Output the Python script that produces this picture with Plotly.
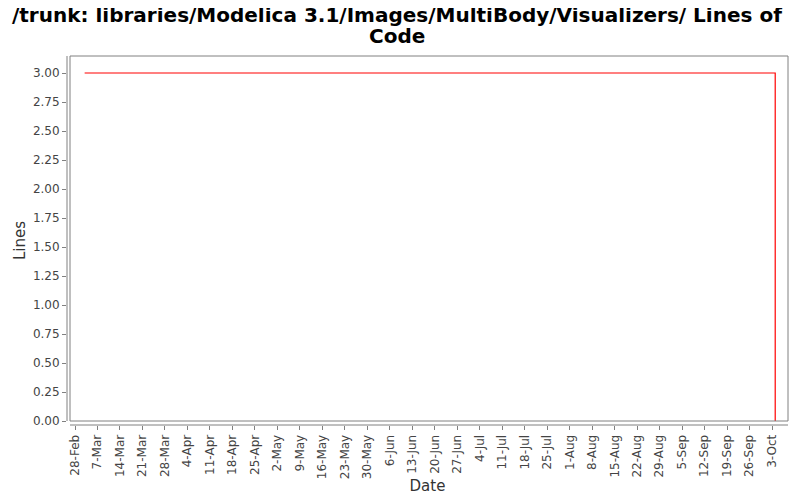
import plotly.graph_objects as go
import pandas as pd

# Data
dates = ["2009-03-03", "2009-10-04", "2009-10-04"]
lines = [3, 3, 0]
tick_start = "2009-02-28"
tick_end = "2009-10-03"
y_ticks = [0, 0.25, 0.5, 0.75, 1.0, 1.25, 1.5, 1.75, 2.0, 2.25, 2.5, 2.75, 3.0]
title_line1 = "/trunk: libraries/Modelica 3.1/Images/MultiBody/Visualizers/ Lines of"
title_line2 = "Code"

OFF = 8  # page body margin in the browser
W, H = 800 - OFF, 500 - OFF
# plot area in window pixels: x 67..788, y 56..425
L, R, T, B = 67 - OFF, 800 - 788, 56 - OFF, 500 - 425
pw, ph = W - L - R, H - T - B

t0 = pd.Timestamp(tick_start)
t1 = pd.Timestamp(tick_end)
px_per_day = (772 - 75) / (t1 - t0).days
x_lo = t0 - pd.Timedelta(days=(75 - 67) / px_per_day)
x_hi = t1 + pd.Timedelta(days=(788 - 772) / px_per_day)

px_per_unit = (421 - 73) / 3.0
y_lo = -(425 - 421) / px_per_unit
y_hi = 3 + (73 - 56) / px_per_unit

fig = go.Figure()
fig.add_trace(go.Scatter(x=dates, y=lines, mode="lines",
                         line=dict(color="#ff0000", width=1.2),
                         showlegend=False, hoverinfo="skip"))

grey = "#808080"
tickfont = dict(family="DejaVu Sans", size=12, color="#444444")
axfont = dict(family="DejaVu Sans", size=15, color="#333333")
fig.update_layout(
    width=W, height=H,
    margin=dict(l=L, r=R, t=T, b=B, pad=0, autoexpand=False),
    paper_bgcolor="white", plot_bgcolor="white",
    xaxis=dict(type="date", range=[x_lo, x_hi], automargin=False,
               tick0=tick_start, dtick=7 * 86400000, tickformat="%-d-%b",
               tickangle=-90, ticks="outside", ticklen=4, tickcolor=grey,
               tickfont=tickfont, showgrid=False, zeroline=False, showline=False,
               title=dict(text="Date", font=axfont, standoff=2)),
    yaxis=dict(range=[y_lo, y_hi], tickvals=y_ticks, tickformat=".2f", automargin=False,
               ticks="outside", ticklen=4, tickcolor=grey, tickfont=tickfont,
               showgrid=False, zeroline=False, showline=False,
               title=dict(text="Lines", font=axfont, standoff=3)),
)

def px_x(p):
    # p in window pixels
    return (p - OFF - L) / pw

def px_y(p):
    return (H - B - (p - OFF)) / ph

# title as two centred lines
for txt, yc in [(title_line1, 15), (title_line2, 36)]:
    fig.add_annotation(text="<b>" + txt + "</b>", xref="paper", yref="paper",
                       x=px_x(397), y=px_y(yc), xanchor="center", yanchor="middle",
                       showarrow=False,
                       font=dict(family="DejaVu Sans", size=20, color="#000000"))

# plot frame
fig.add_shape(type="rect", xref="paper", yref="paper",
              x0=px_x(70), x1=px_x(788), y0=px_y(421), y1=px_y(56),
              line=dict(color=grey, width=1), layer="above")
# offset y axis line
fig.add_shape(type="line", xref="paper", yref="paper",
              x0=px_x(67), x1=px_x(67), y0=px_y(421), y1=px_y(56),
              line=dict(color=grey, width=1), layer="above")
# offset x axis line
fig.add_shape(type="line", xref="paper", yref="paper",
              x0=px_x(70), x1=px_x(788), y0=px_y(425), y1=px_y(425),
              line=dict(color=grey, width=1), layer="above")

fig.write_html("out.html")
